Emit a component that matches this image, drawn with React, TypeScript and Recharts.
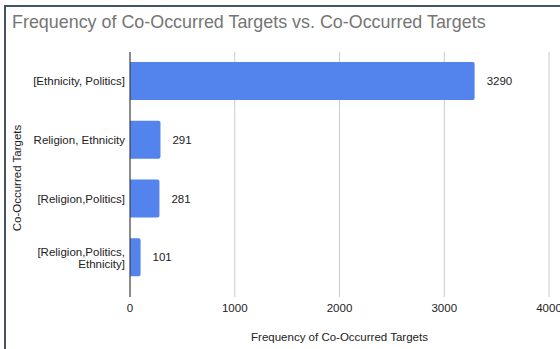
import React from "react";
import {
  BarChart,
  Bar,
  XAxis,
  YAxis,
  CartesianGrid,
  LabelList,
} from "recharts";

const categories = [
  "[Ethnicity, Politics]",
  "Religion, Ethnicity",
  "[Religion,Politics]",
  "[Religion,Politics, Ethnicity]",
];
const frequencies = [3290, 291, 281, 101];
const xTicks = [0, 1000, 2000, 3000, 4000];

const FONT = '"Liberation Sans", Arial, Helvetica, sans-serif';
const chartData = categories.map((name, i) => ({ name, value: frequencies[i] }));

// break long labels at the last space, like the sheets chart does
function wrapLabel(s: string): string[] {
  if (s.length <= 22) return [s];
  const i = s.lastIndexOf(" ");
  return i > 0 ? [s.slice(0, i), s.slice(i + 1)] : [s];
}

function CategoryTick(props: any) {
  const { x, y, payload } = props;
  const lines = wrapLabel(payload.value);
  const lh = 12;
  const startY = y - ((lines.length - 1) * lh) / 2;
  return (
    <text
      x={x}
      y={startY}
      textAnchor="end"
      dominantBaseline="central"
      fontSize={11.5}
      fontFamily={FONT}
      fill="#222"
    >
      {lines.map((l, i) => (
        <tspan key={i} x={x} dy={i === 0 ? 0 : lh}>
          {l}
        </tspan>
      ))}
    </text>
  );
}

export default function App() {
  return (
    <div
      style={{
        position: "fixed",
        left: 0,
        top: 0,
        width: 560,
        height: 349,
        overflow: "hidden",
        background: "#fff",
      }}
    >
      <div
        style={{
          position: "absolute",
          left: 4,
          top: 5,
          width: 700,
          height: 500,
          borderLeft: "2px solid #45545f",
          borderTop: "2px solid #45545f",
        }}
      />
      <div
        style={{
          position: "absolute",
          left: 12,
          top: 12,
          fontFamily: FONT,
          fontSize: 17.9,
          color: "#757575",
          whiteSpace: "nowrap",
        }}
      >
        Frequency of Co-Occurred Targets vs. Co-Occurred Targets
      </div>
      <div style={{ position: "absolute", left: 0, top: 0 }}>
        <BarChart
          width={640}
          height={349}
          data={chartData}
          layout="vertical"
          margin={{ top: 52, right: 91, left: 0, bottom: 0 }}
          barSize={38}
        >
          <CartesianGrid horizontal={false} stroke="#cccccc" strokeWidth={1} />
          <XAxis
            type="number"
            domain={[0, 4000]}
            ticks={xTicks}
            interval={0}
            height={52}
            axisLine={false}
            tickLine={false}
            tickSize={0}
            tickMargin={7}
            tick={{ fontSize: 11.5, fill: "#222", fontFamily: FONT }}
            label={{
              value: "Frequency of Co-Occurred Targets",
              position: "insideBottom",
              offset: 8,
              fontSize: 11.5,
              fill: "#222",
              fontFamily: FONT,
            }}
          />
          <YAxis
            type="category"
            dataKey="name"
            width={130}
            padding={{ top: 0, bottom: 10 }}
            axisLine={{ stroke: "#333", strokeWidth: 1 }}
            tickLine={false}
            tickSize={0}
            tickMargin={5}
            tick={<CategoryTick />}
            label={{
              content: () => {
                const cx = 17;
                const cy = 178;
                return (
                  <text
                    x={cx}
                    y={cy}
                    transform={`rotate(-90 ${cx} ${cy})`}
                    textAnchor="middle"
                    dominantBaseline="central"
                    fontSize={11.5}
                    fill="#222"
                    fontFamily={FONT}
                  >
                    Co-Occurred Targets
                  </text>
                );
              },
            }}
          />
          <Bar
            dataKey="value"
            fill="#5383ec"
            radius={[0, 2, 2, 0]}
            isAnimationActive={false}
          >
            <LabelList
              dataKey="value"
              position="right"
              offset={12}
              fontSize={11.5}
              fill="#222"
              fontFamily={FONT}
            />
          </Bar>
        </BarChart>
      </div>
    </div>
  );
}
